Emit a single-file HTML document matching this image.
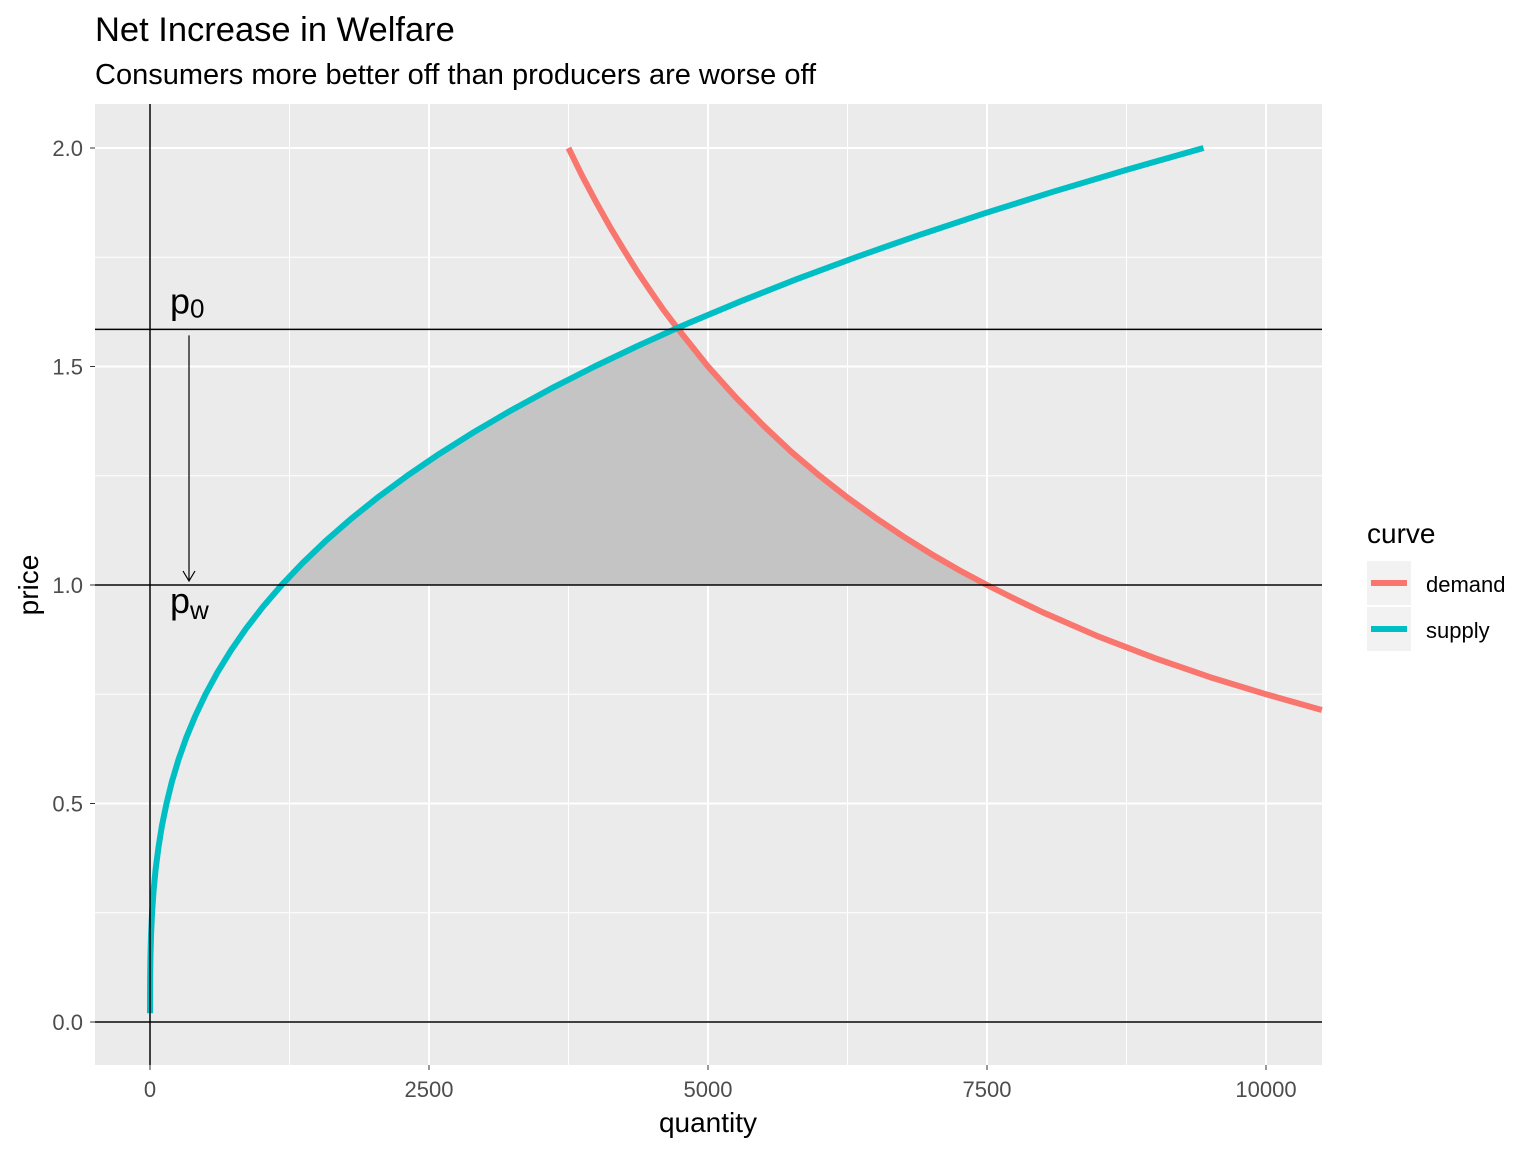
<!DOCTYPE html>
<html><head><meta charset="utf-8"><style>
html,body{margin:0;padding:0;background:#fff;}
svg text{font-family:"Liberation Sans",Arial,sans-serif;}
</style></head><body>
<svg id="chart" width="1536" height="1152" xmlns="http://www.w3.org/2000/svg">
<rect width="1536" height="1152" fill="#fff"/>
<text x="95" y="41" font-size="34.5" fill="#000">Net Increase in Welfare</text>
<text x="95" y="84" font-size="29" fill="#000">Consumers more better off than producers are worse off</text>
<rect x="95" y="104" width="1227" height="961" fill="#ebebeb"/>
<g id="grid"></g>
<g id="area"></g>
<g id="lines"></g>
<g id="refs"></g>
<g id="axes"></g>
<text x="708" y="1132" font-size="28" text-anchor="middle" fill="#000">quantity</text>
<text transform="translate(38,585) rotate(-90)" font-size="28" text-anchor="middle" fill="#000">price</text>
<g>
<text x="1367" y="543" font-size="28" fill="#000">curve</text>
<rect x="1367" y="561" width="44" height="44" fill="#f2f2f2"/>
<line x1="1371" y1="583" x2="1407" y2="583" stroke="#F8766D" stroke-width="6"/>
<text x="1426" y="592" font-size="22" fill="#000">demand</text>
<rect x="1367" y="607" width="44" height="44" fill="#f2f2f2"/>
<line x1="1371" y1="629" x2="1407" y2="629" stroke="#00BFC4" stroke-width="6"/>
<text x="1426" y="638" font-size="22" fill="#000">supply</text>
</g>
</svg>
<script>
const supplyP=[0.02,0.05,0.1,0.15,0.2,0.25,0.3,0.35,0.4,0.45,0.5,0.55,0.6,0.65,0.7,0.75,0.8,0.85,0.9,0.95,1.0,1.05,1.1,1.15,1.2,1.25,1.3,1.35,1.4,1.45,1.5,1.55,1.588,1.6,1.65,1.7,1.75,1.8,1.85,1.9,1.95,2.0];
const supplyQ=[0.01,0.15,1.2,4,9.4,18.4,32,50.6,76,107.5,148,196.3,255,324,405,497.8,604,724.7,860,1011.7,1180,1366,1571,1794.7,2039,2304.7,2592,2903.2,3238,3597.5,3983,4394.3,4725,4833,5300.8,5797,6324.2,6882,7471.4,8094,8749.6,9440];
const demandQ=[3750,3875,4000,4125,4250,4375,4500,4600,4725,5000,5250,5500,5750,6000,6250,6500,6750,7000,7250,7500,7750,8000,8500,9000,9500,10000,10500];
const demandP=[2.0,1.935,1.875,1.818,1.765,1.714,1.667,1.630,1.588,1.5,1.429,1.364,1.304,1.25,1.2,1.154,1.111,1.071,1.034,1.0,0.968,0.9375,0.882,0.833,0.789,0.75,0.714];
const xTicks=[0,2500,5000,7500,10000];
const yTicks=[0,0.5,1.0,1.5,2.0];
const priceWorld=1.0, priceDomestic=1.585;
const NS="http://www.w3.org/2000/svg";
const X=q=>150+q*0.11160, Y=p=>1022-p*437;
function mk(parent,tag,attrs){const e=document.createElementNS(NS,tag);for(const k in attrs)e.setAttribute(k,attrs[k]);document.getElementById(parent).appendChild(e);return e;}
for(let i=0;i<xTicks.length;i++){
 const e=mk('grid','line',{x1:X(xTicks[i]),x2:X(xTicks[i]),y1:104,y2:1065,stroke:'#fff','stroke-width':2});
 
 
 if(i<xTicks.length-1){const m=(xTicks[i]+xTicks[i+1])/2;mk('grid','line',{x1:X(m),x2:X(m),y1:104,y2:1065,stroke:'#fff','stroke-width':1});}
 const t=mk('axes','text',{x:X(xTicks[i]),y:1097,'font-size':22,'text-anchor':'middle',fill:'#4d4d4d'});t.textContent=xTicks[i];
 
 
 mk('axes','line',{x1:X(xTicks[i]),x2:X(xTicks[i]),y1:1065,y2:1070,stroke:'#333','stroke-width':1});
}
mk('grid','line',{x1:X(-1250),x2:X(-1250),y1:104,y2:1065,stroke:'#fff','stroke-width':1});
for(let i=0;i<yTicks.length;i++){
 const e=mk('grid','line',{x1:95,x2:1322,y1:Y(yTicks[i]),y2:Y(yTicks[i]),stroke:'#fff','stroke-width':2});
 
 
 if(i<yTicks.length-1){const m=(yTicks[i]+yTicks[i+1])/2;mk('grid','line',{x1:95,x2:1322,y1:Y(m),y2:Y(m),stroke:'#fff','stroke-width':1});}
 const t=mk('axes','text',{x:83,y:Y(yTicks[i])+8,'font-size':22,'text-anchor':'end',fill:'#4d4d4d'});t.textContent=yTicks[i].toFixed(1);
 
 
 mk('axes','line',{x1:90,x2:95,y1:Y(yTicks[i]),y2:Y(yTicks[i]),stroke:'#333','stroke-width':1});
}
let pts=[];
for(let i=0;i<supplyP.length;i++){if(supplyP[i]>=priceWorld&&supplyP[i]<=1.59)pts.push(X(supplyQ[i])+','+Y(supplyP[i]));}
for(let i=0;i<demandQ.length;i++){if(demandP[i]>=priceWorld&&demandP[i]<=1.59)pts.push(X(demandQ[i])+','+Y(demandP[i]));}
const a=mk('area','polygon',{points:pts.join(' '),fill:'#c4c4c4'});


const d=mk('lines','polyline',{points:demandQ.map((q,i)=>X(q)+','+Y(demandP[i])).join(' '),fill:'none',stroke:'#F8766D','stroke-width':6,'stroke-linejoin':'round'});


const s=mk('lines','polyline',{points:supplyQ.map((q,i)=>X(q)+','+Y(supplyP[i])).join(' '),fill:'none',stroke:'#00BFC4','stroke-width':6,'stroke-linejoin':'round'});


[0,priceWorld,priceDomestic].forEach(p=>{const l=mk('refs','line',{x1:95,x2:1322,y1:Y(p),y2:Y(p),stroke:'#000','stroke-width':1.5});
 
 });
const v=mk('refs','line',{x1:X(0),x2:X(0),y1:104,y2:1065,stroke:'#000','stroke-width':1.5});


const ar=mk('refs','path',{d:`M189 ${Y(priceDomestic)+6} L189 ${Y(priceWorld)-4} M183 ${Y(priceWorld)-14} L189 ${Y(priceWorld)-4} L195 ${Y(priceWorld)-14}`,stroke:'#000','stroke-width':1.2,fill:'none'});


const t0=mk('refs','text',{x:170,y:Y(priceDomestic)-16,'font-size':36,fill:'#000'});t0.innerHTML='p<tspan font-size="26" dy="4">0</tspan>';


const tw=mk('refs','text',{x:170,y:Y(priceWorld)+28,'font-size':36,fill:'#000'});tw.innerHTML='p<tspan font-size="26" dy="6">w</tspan>';


</script>
</body></html>
